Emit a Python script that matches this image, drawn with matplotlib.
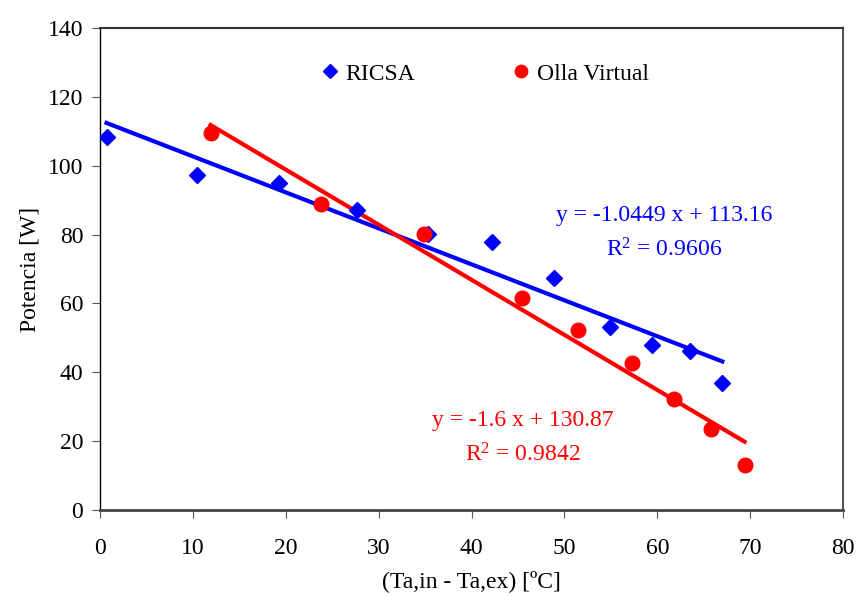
import numpy as np
import matplotlib.pyplot as plt

plt.rcParams['font.family'] = ['Liberation Serif', 'DejaVu Serif']
plt.rcParams['mathtext.fontset'] = 'custom'
plt.rcParams['mathtext.rm'] = 'Liberation Serif'
plt.rcParams['mathtext.it'] = 'Liberation Serif:italic'

# RICSA data
x_ricsa = [0.7, 10.4, 19.3, 27.7, 35.3, 42.2, 48.9, 54.9, 59.4, 63.5, 67.0]
y_ricsa = [108.2, 97.3, 95.0, 87.1, 80.2, 77.8, 67.4, 53.2, 47.9, 46.2, 36.8]

# Olla Virtual data
x_olla = [11.9, 23.8, 34.9, 45.4, 51.5, 57.3, 61.8, 65.8, 69.4]
y_olla = [109.6, 88.9, 80.2, 61.6, 52.4, 42.6, 32.2, 23.5, 13.1]

# trend lines (as shown on the chart)
m_ricsa, b_ricsa = -1.0449, 113.16
m_olla, b_olla = -1.6, 130.87

fig = plt.figure(figsize=(8.57, 5.96), dpi=100)
ax = fig.add_axes([0.1167, 0.1443, 0.867, 0.8087])

xr = np.array([min(x_ricsa), max(x_ricsa)])
xo = np.array([min(x_olla), max(x_olla)])
ax.plot(xr, m_ricsa * xr + b_ricsa, color='#0000ff', linewidth=3, zorder=2)
ax.plot(xo, m_olla * xo + b_olla, color='#ff0000', linewidth=3, zorder=2)

ax.plot(x_ricsa, y_ricsa, 'D', color='#0000ff', markersize=8, label='RICSA', zorder=3)
ax.plot(x_olla, y_olla, 'o', color='#ff0000', markersize=10.5, label='Olla Virtual', zorder=4)

ax.set_xlim(0, 80)
ax.set_ylim(0, 140)
ax.set_xticks(range(0, 81, 10))
ax.set_yticks(range(0, 141, 20))
ax.tick_params(axis='both', direction='out', length=6, labelsize=17, color='#555555')
ax.tick_params(axis='x', pad=14)
ax.tick_params(axis='y', pad=6)

ax.spines['bottom'].set_color('#444444')
ax.spines['bottom'].set_linewidth(2)
ax.spines['top'].set_color('#333333')
ax.spines['top'].set_linewidth(1.5)
ax.spines['right'].set_color('#555555')
ax.spines['right'].set_linewidth(1.5)
ax.spines['left'].set_color('black')
ax.spines['left'].set_linewidth(1)

ax.set_xlabel('(Ta,in - Ta,ex) [ºC]', fontsize=17, labelpad=8)
ax.set_ylabel('Potencia [W]', fontsize=17, labelpad=5)

ax.legend(loc='center left', bbox_to_anchor=(0.262, 0.905), ncol=2, frameon=False,
          fontsize=17, handletextpad=0.05, handlelength=1.2, columnspacing=3.9, markerscale=0.85)

ax.text(60.7, 85.4, 'y = -1.0449 x + 113.16', color='#0000ff', fontsize=17, ha='center', va='center')
ax.text(60.7, 75.5, 'R$^2$ = 0.9606', color='#0000ff', fontsize=17, ha='center', va='center')
ax.text(45.5, 26.1, 'y = -1.6 x + 130.87', color='#ff0000', fontsize=17, ha='center', va='center')
ax.text(45.5, 16.0, 'R$^2$ = 0.9842', color='#ff0000', fontsize=17, ha='center', va='center')

fig.savefig('out.png', dpi=100)
plt.close()
